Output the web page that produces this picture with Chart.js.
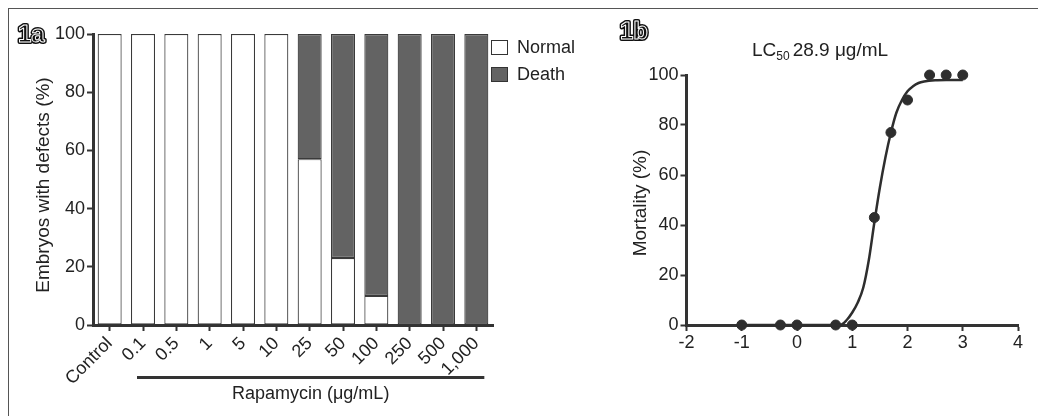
<!DOCTYPE html>
<html>
<head>
<meta charset="utf-8">
<script src="https://cdn.jsdelivr.net/npm/chart.js@4.4.1/dist/chart.umd.min.js"></script>
<style>
  html, body { margin: 0; padding: 0; background: #fff; }
  body { width: 1038px; height: 416px; position: relative; overflow: hidden; }
  #frame { position: absolute; left: 8px; top: 8px; width: 1100px; height: 500px;
           border-top: 1.5px solid #555; border-left: 1.5px solid #555; }
  #wrapA { position: absolute; left: 0; top: 0; width: 600px; height: 416px; }
  #wrapB { position: absolute; left: 600px; top: 0; width: 438px; height: 416px; }
</style>
</head>
<body>
<div id="frame"></div>
<div id="wrapA"><canvas id="chartA"></canvas></div>
<div id="wrapB"><canvas id="chartB"></canvas></div>
<script>
// --- panel a: stacked bars ---
const doses = ["Control", "0.1", "0.5", "1", "5", "10", "25", "50", "100", "250", "500", "1,000"];
const normalPct = [100, 100, 100, 100, 100, 100, 57, 23, 10, 0, 0, 0];
const deathPct = [0, 0, 0, 0, 0, 0, 43, 77, 90, 100, 100, 100];

// --- panel b: mortality vs log dose ---
const logDose = [-1, -0.3, 0, 0.7, 1, 1.4, 1.7, 2, 2.4, 2.7, 3];
const mortality = [0, 0, 0, 0, 0, 43, 77, 90, 100, 100, 100];
// fitted curve
const fitLogDose = [-1, 0, 0.78, 0.9, 1.0, 1.1, 1.2, 1.3, 1.4, 1.5, 1.6, 1.7, 1.8, 1.9, 2.0, 2.1, 2.2, 2.3, 2.5, 2.7, 3.0];
const fitMortality = [0, 0, 0, 2, 5, 9, 15, 26, 41, 55, 67, 77, 85, 90, 93.5, 95.5, 96.8, 97.4, 97.9, 98, 98];

const FONT = "'Liberation Sans', Arial, sans-serif";
const INK = "#222";
const AXIS = "#333";

Chart.defaults.font.family = FONT;
Chart.defaults.color = INK;

function panelLabel(ctx, text, x, y) {
  ctx.save();
  ctx.font = "bold 24px " + FONT;
  ctx.textBaseline = "alphabetic";
  ctx.lineJoin = "round";
  ctx.lineWidth = 4;
  ctx.strokeStyle = "#111";
  ctx.strokeText(text, x, y);
  ctx.fillStyle = "#111";
  ctx.fillText(text, x, y);
  ctx.lineWidth = 1;
  ctx.strokeStyle = "#fff";
  ctx.strokeText(text, x, y);
  ctx.restore();
}

const decorA = {
  id: "decorA",
  afterDraw(chart) {
    const ctx = chart.ctx;
    const xs = chart.scales.x;
    ctx.save();
    // legend
    chart.data.datasets.forEach((ds, i) => {
      const y = 40 + i * 27;
      ctx.fillStyle = ds.backgroundColor;
      ctx.strokeStyle = AXIS;
      ctx.lineWidth = 1;
      ctx.fillRect(491, y, 17, 15);
      ctx.strokeRect(491.5, y + 0.5, 16, 14);
      ctx.fillStyle = INK;
      ctx.font = "18px " + FONT;
      ctx.textBaseline = "middle";
      ctx.textAlign = "left";
      ctx.fillText(ds.label, 517, y + 8);
    });
    // rapamycin bracket + label
    const x0 = xs.getPixelForValue(1) - 6;
    const x1 = xs.getPixelForValue(doses.length - 1) + 8;
    ctx.strokeStyle = AXIS;
    ctx.lineWidth = 3;
    ctx.beginPath();
    ctx.moveTo(x0, 377.5);
    ctx.lineTo(x1, 377.5);
    ctx.stroke();
    ctx.fillStyle = INK;
    ctx.font = "18px " + FONT;
    ctx.textAlign = "center";
    ctx.textBaseline = "middle";
    ctx.fillText("Rapamycin (\u03bcg/mL)", (x0 + x1) / 2, 394);
    // y title
    ctx.font = "19px " + FONT;
    ctx.translate(44, 185);
    ctx.rotate(-Math.PI / 2);
    ctx.fillText("Embryos with defects (%)", 0, 0);
    ctx.restore();
    panelLabel(ctx, "1a", 18, 42);
  },
};

new Chart(document.getElementById("chartA"), {
  type: "bar",
  data: {
    labels: doses,
    datasets: [
      { label: "Normal", data: normalPct, backgroundColor: "#ffffff", borderColor: "#3a3a3a", borderWidth: 1.2, borderSkipped: false },
      { label: "Death", data: deathPct, backgroundColor: "#636363", borderColor: "#3a3a3a", borderWidth: 1.2, borderSkipped: false },
    ],
  },
  options: {
    responsive: true,
    maintainAspectRatio: false,
    animation: false,
    layout: { padding: { left: 0, top: 34, right: 107, bottom: 0 } },
    plugins: { legend: { display: false }, tooltip: { enabled: false } },
    datasets: { bar: { categoryPercentage: 1, barPercentage: 0.72 } },
    scales: {
      x: {
        stacked: true,
        afterFit: (s) => { s.height = 91; },
        border: { display: true, color: AXIS, width: 3 },
        grid: { display: true, offset: false, drawOnChartArea: false, drawTicks: true, tickLength: 6, tickWidth: 2, tickColor: AXIS },
        ticks: { autoSkip: false, minRotation: 45, maxRotation: 45, padding: 2, color: INK, font: { size: 18 } },
      },
      y: {
        stacked: true,
        min: 0,
        max: 100,
        afterFit: (s) => { s.width = 93; },
        border: { display: true, color: AXIS, width: 3 },
        grid: { display: true, drawOnChartArea: false, drawTicks: true, tickLength: 6, tickWidth: 2, tickColor: AXIS },
        ticks: { stepSize: 20, padding: 2, color: INK, font: { size: 18 } },
      },
    },
  },
  plugins: [decorA],
});

const decorB = {
  id: "decorB",
  afterDraw(chart) {
    const ctx = chart.ctx;
    ctx.save();
    ctx.fillStyle = INK;
    ctx.textBaseline = "alphabetic";
    ctx.textAlign = "left";
    // title: LC50 28.9 ug/mL
    let x = 152;
    ctx.font = "19px " + FONT;
    ctx.fillText("LC", x, 56);
    x += ctx.measureText("LC").width;
    ctx.font = "12px " + FONT;
    ctx.fillText("50", x, 60);
    x += ctx.measureText("50").width + 3;
    ctx.font = "19px " + FONT;
    ctx.fillText("28.9 \u03bcg/mL", x, 56);
    // y title
    ctx.font = "19px " + FONT;
    ctx.textAlign = "center";
    ctx.textBaseline = "middle";
    ctx.translate(41, 203);
    ctx.rotate(-Math.PI / 2);
    ctx.fillText("Mortality (%)", 0, 0);
    ctx.restore();
    panelLabel(ctx, "1b", 20, 39);
  },
};

new Chart(document.getElementById("chartB"), {
  type: "scatter",
  data: {
    datasets: [
      {
        label: "fit",
        data: fitLogDose.map((v, i) => ({ x: v, y: fitMortality[i] })),
        showLine: true,
        borderColor: "#2e2e2e",
        borderWidth: 2.5,
        pointRadius: 0,
        cubicInterpolationMode: "monotone",
        clip: false,
      },
      {
        label: "Mortality",
        data: logDose.map((v, i) => ({ x: v, y: mortality[i] })),
        backgroundColor: "#2e2e2e",
        borderColor: "#2e2e2e",
        pointRadius: 5,
        clip: false,
      },
    ],
  },
  options: {
    responsive: true,
    maintainAspectRatio: false,
    animation: false,
    layout: { padding: { left: 0, top: 75, right: 20, bottom: 0 } },
    plugins: { legend: { display: false }, tooltip: { enabled: false } },
    scales: {
      x: {
        type: "linear",
        min: -2,
        max: 4,
        afterFit: (s) => { s.height = 91; },
        border: { display: true, color: AXIS, width: 3 },
        grid: { display: true, drawOnChartArea: false, drawTicks: true, tickLength: 6, tickWidth: 2, tickColor: AXIS },
        ticks: { stepSize: 1, padding: 1, color: INK, font: { size: 18 } },
      },
      y: {
        min: 0,
        max: 100,
        afterFit: (s) => { s.width = 86.5; },
        border: { display: true, color: AXIS, width: 3 },
        grid: { display: true, drawOnChartArea: false, drawTicks: true, tickLength: 6, tickWidth: 2, tickColor: AXIS },
        ticks: { stepSize: 20, padding: 2, color: INK, font: { size: 18 } },
      },
    },
  },
  plugins: [decorB],
});
</script>
</body>
</html>
